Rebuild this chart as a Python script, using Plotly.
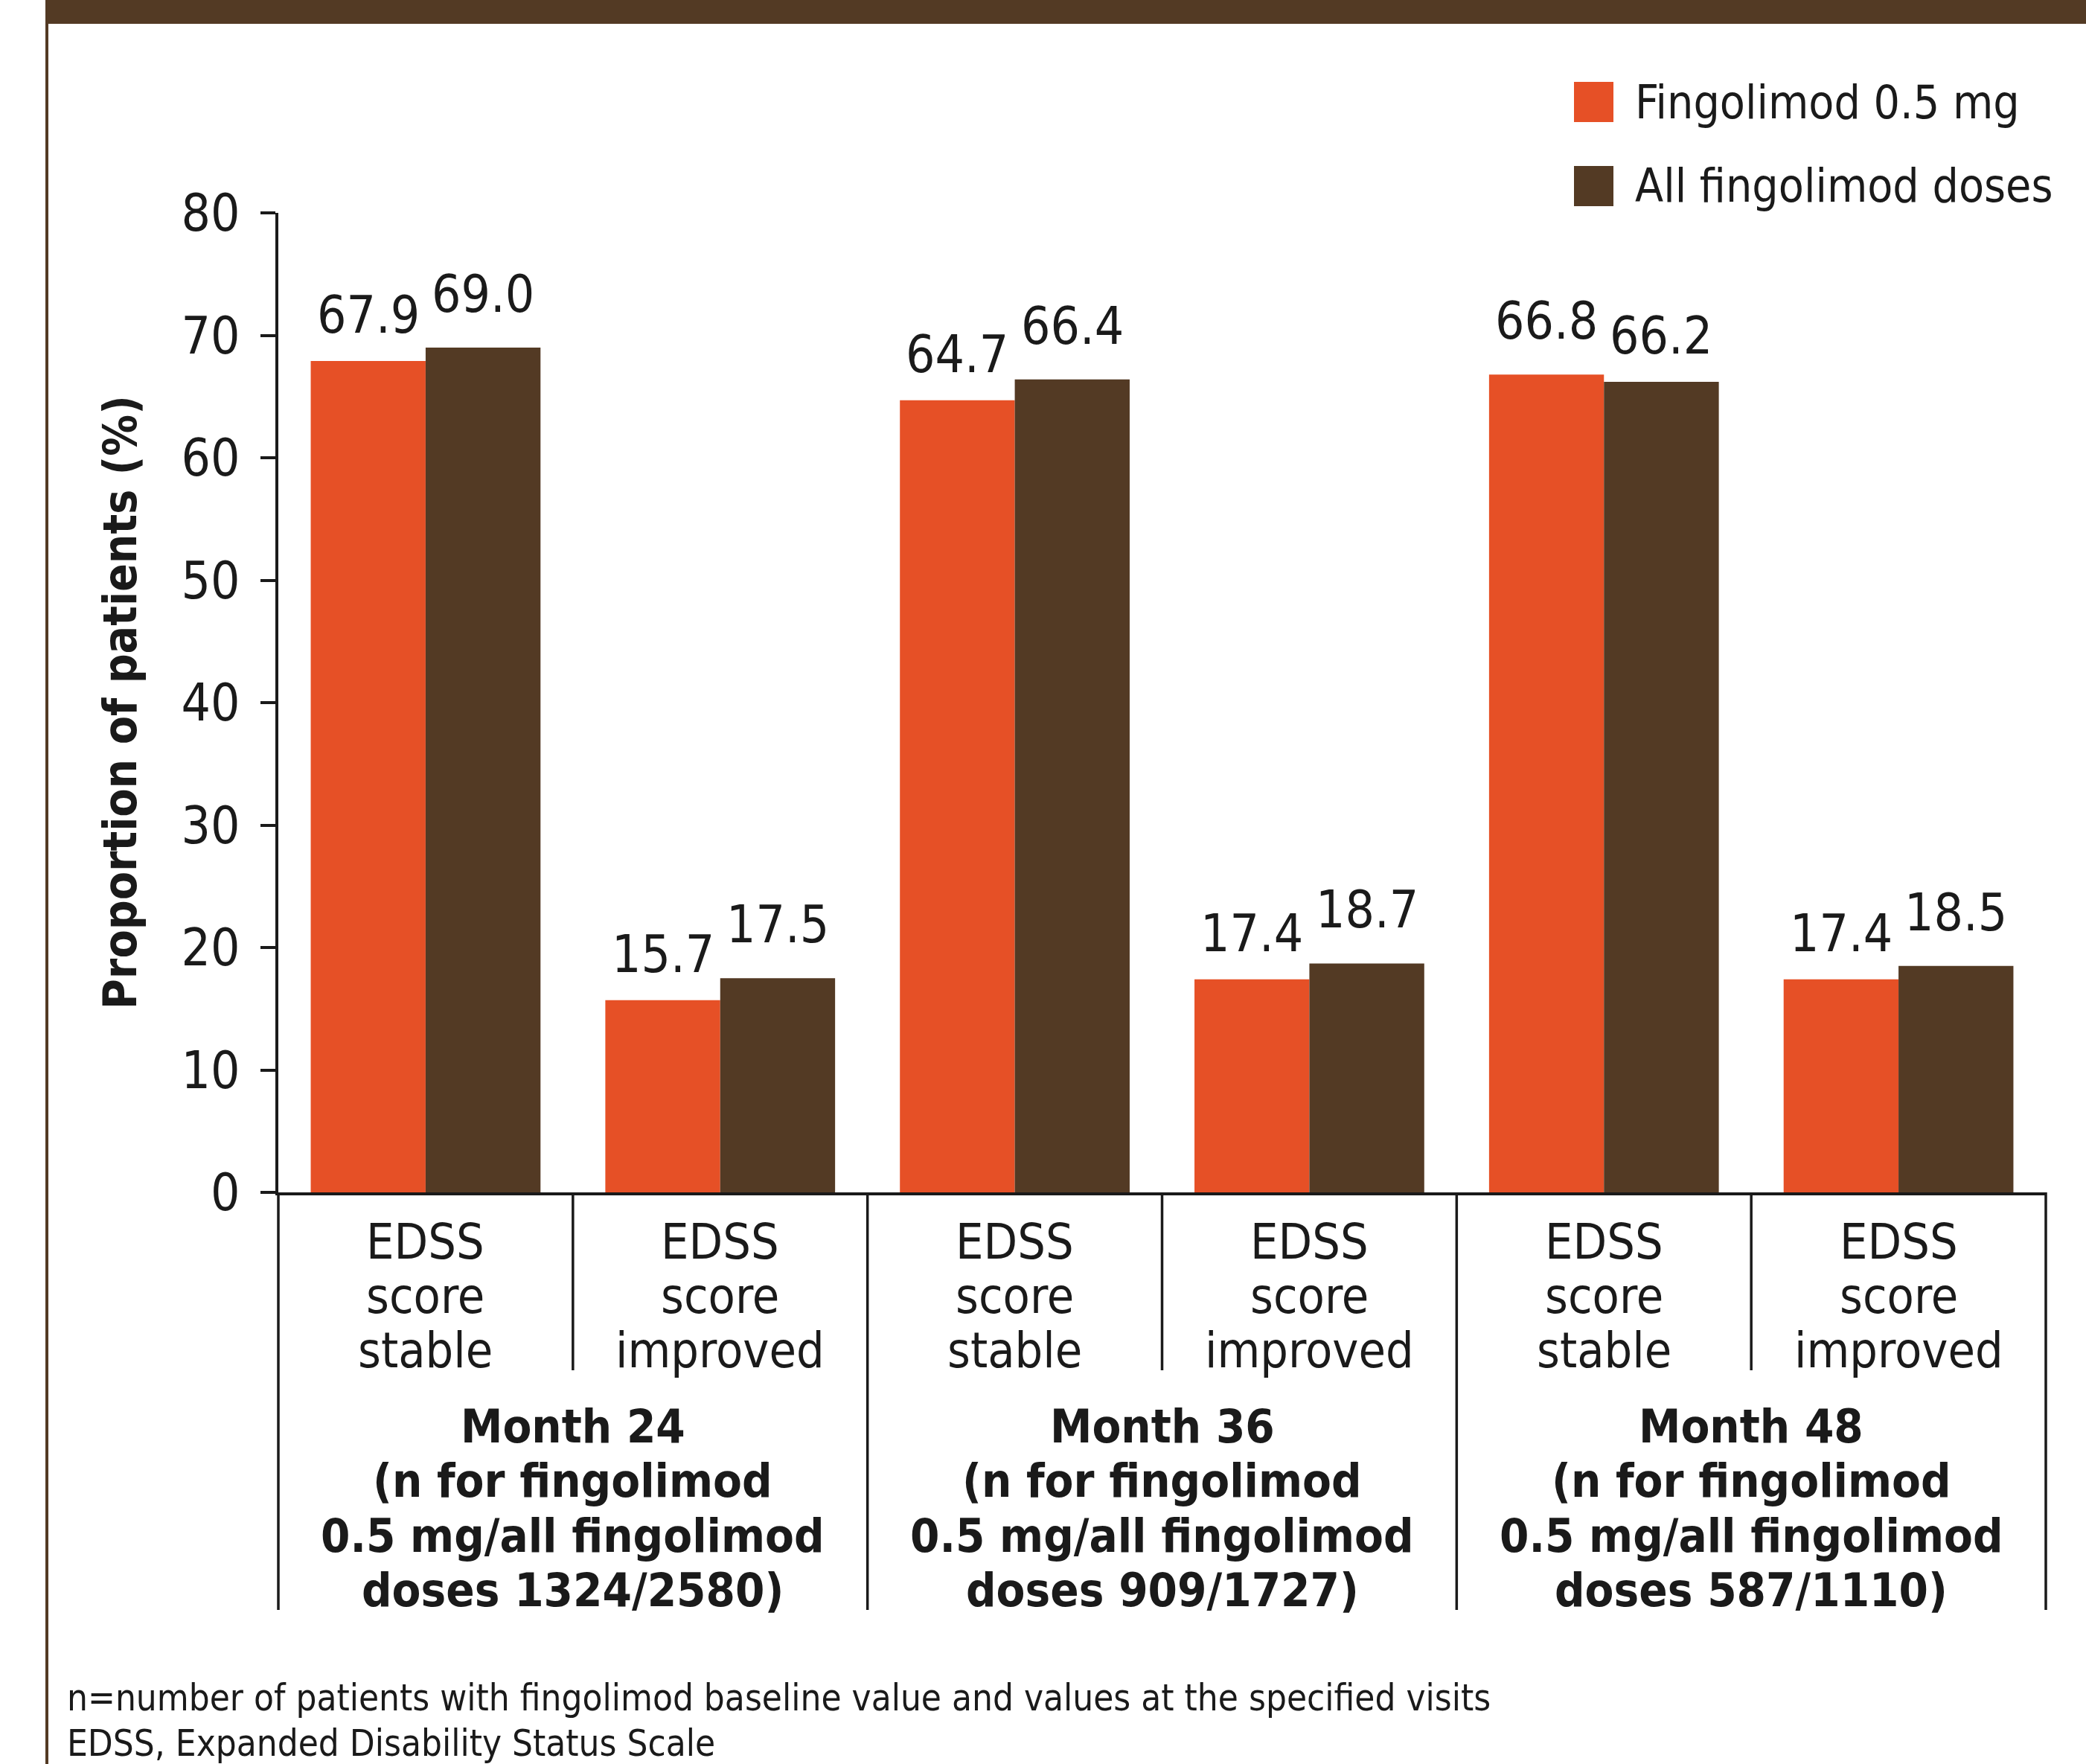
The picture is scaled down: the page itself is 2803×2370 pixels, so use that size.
import plotly.graph_objects as go

# ---------------- data ----------------
categories = ["M24 stable", "M24 improved", "M36 stable", "M36 improved", "M48 stable", "M48 improved"]
category_labels = ["EDSS<br>score<br>stable", "EDSS<br>score<br>improved",
                   "EDSS<br>score<br>stable", "EDSS<br>score<br>improved",
                   "EDSS<br>score<br>stable", "EDSS<br>score<br>improved"]
group_labels = ["Month 24<br>(n for fingolimod<br>0.5 mg/all fingolimod<br>doses 1324/2580)",
                "Month 36<br>(n for fingolimod<br>0.5 mg/all fingolimod<br>doses 909/1727)",
                "Month 48<br>(n for fingolimod<br>0.5 mg/all fingolimod<br>doses 587/1110)"]
series_names = ["Fingolimod 0.5 mg", "All fingolimod doses"]
fingo_05 = [67.9, 15.7, 64.7, 17.4, 66.8, 17.4]
fingo_all = [69.0, 17.5, 66.4, 18.7, 66.2, 18.5]
y_ticks = [0, 10, 20, 30, 40, 50, 60, 70, 80]
y_title = "Proportion of patients (%)"
footnotes = ["n=number of patients with fingolimod baseline value and values at the specified visits",
             "EDSS, Expanded Disability Status Scale"]

# ---------------- style ----------------
W, H = 2803, 2370
ML, MR, MT, MB = 374, 54, 286, 768
PW = W - ML - MR
PH = H - MT - MB
ORANGE = "#E65026"
BROWN = "#533A24"
INK = "#1a1a1a"
FONT = "Liberation Sans Narrow, DejaVu Sans Condensed, Roboto Condensed, Arial Narrow, Liberation Sans, sans-serif"
BARGAP = 0.22


def px_x(px):
    return (px - ML) / PW


def px_y(py):
    return (H - MB - py) / PH


colors = [ORANGE, BROWN]
series = [fingo_05, fingo_all]
n_cat = len(categories)
slot_px = PW / n_cat
bar_px = slot_px * (1 - BARGAP) / len(series)

fig = go.Figure()
for name, vals, col in zip(series_names, series, colors):
    fig.add_trace(go.Bar(x=categories, y=vals, name=name, marker_color=col,
                         marker_line_width=0, showlegend=False))

annotations = []
shapes = []

# value labels (the taller bar of each pair is lifted a little higher)
for si, vals in enumerate(series):
    other = series[1 - si]
    xoff = (si - (len(series) - 1) / 2) * bar_px
    for i, (c, v) in enumerate(zip(categories, vals)):
        taller = v > other[i]
        annotations.append(dict(
            x=c, y=v, xref="x", yref="y", text=f"{v:.1f}", showarrow=False,
            xanchor="center", yanchor="bottom", yshift=30 if taller else 20,
            xshift=xoff,
            font=dict(family=FONT, size=69, color=INK)))

# category labels (line by line, to control spacing)
for c, lab in zip(categories, category_labels):
    for li, line in enumerate(lab.split("<br>")):
        annotations.append(dict(
            x=c, y=0, xref="x", yref="paper", text=line, showarrow=False,
            xanchor="center", yanchor="middle", yshift=-(66 + 73 * li),
            font=dict(family=FONT, size=66, color=INK)))

# group labels
per_group = n_cat // len(group_labels)
for gi, lab in enumerate(group_labels):
    xc = (gi * per_group + per_group / 2) / n_cat
    for li, line in enumerate(lab.split("<br>")):
        annotations.append(dict(
            x=xc, y=0, xref="paper", yref="paper", text=f"<b>{line}</b>", showarrow=False,
            xanchor="center", yanchor="middle", yshift=-(314 + 73.5 * li),
            font=dict(family=FONT, size=63, color=INK)))

# separators below the axis
for b in range(n_cat + 1):
    long_line = (b % per_group == 0)
    bottom = 2163 if long_line else 1841
    shapes.append(dict(type="line", xref="paper", yref="paper",
                       x0=b / n_cat, x1=b / n_cat, y0=0, y1=px_y(bottom),
                       line=dict(color=INK, width=3.5)))

# y-axis title
annotations.append(dict(
    x=px_x(161), y=0.5, xref="paper", yref="paper", text=f"<b>{y_title}</b>",
    textangle=-90, showarrow=False, xanchor="center", yanchor="middle",
    font=dict(family=FONT, size=62, color=INK)))

# custom legend
leg_y = [137, 250]
for name, col, yc in zip(series_names, colors, leg_y):
    shapes.append(dict(type="rect", xref="paper", yref="paper",
                       x0=px_x(2115), x1=px_x(2168), y0=px_y(yc - 27), y1=px_y(yc + 27),
                       fillcolor=col, line=dict(width=0)))
    annotations.append(dict(
        x=px_x(2195), y=px_y(yc), xref="paper", yref="paper", text=name, showarrow=False,
        xanchor="left", yanchor="middle",
        font=dict(family=FONT, size=62, color=INK)))

# footnotes
for li, line in enumerate(footnotes):
    annotations.append(dict(
        x=px_x(88), y=px_y(2281 + 61 * li), xref="paper", yref="paper", text=line,
        showarrow=False, xanchor="left", yanchor="middle",
        font=dict(family=FONT, size=49, color=INK)))

# frame: top band and left rule
shapes.append(dict(type="rect", xref="paper", yref="paper",
                   x0=px_x(62), x1=px_x(W + 5), y0=px_y(32), y1=px_y(-5),
                   fillcolor=BROWN, line=dict(width=0)))
shapes.append(dict(type="line", xref="paper", yref="paper",
                   x0=px_x(63), x1=px_x(63), y0=px_y(0), y1=px_y(H + 5),
                   line=dict(color=BROWN, width=4)))

fig.update_layout(
    width=W, height=H,
    barmode="group", bargap=BARGAP, bargroupgap=0,
    margin=dict(l=ML, r=MR, t=MT, b=MB, pad=0),
    paper_bgcolor="white", plot_bgcolor="white",
    font=dict(family=FONT, size=66, color=INK),
    annotations=annotations, shapes=shapes,
    xaxis=dict(showticklabels=False, ticks="", showline=True, linecolor=INK,
               linewidth=3.5, showgrid=False, zeroline=False, range=[-0.5, n_cat - 0.5]),
    yaxis=dict(range=[0, 80], tickvals=y_ticks, ticks="outside", ticklen=20, tickwidth=3.5,
               tickcolor=INK, showline=True, linecolor=INK, linewidth=3.5, showgrid=False,
               zeroline=False, ticklabelstandoff=14,
               tickfont=dict(family=FONT, size=69, color=INK)),
)

fig.write_html("out.html",
               config={"displayModeBar": False},
               post_script="document.body.style.margin='0';document.body.style.overflow='hidden';")
